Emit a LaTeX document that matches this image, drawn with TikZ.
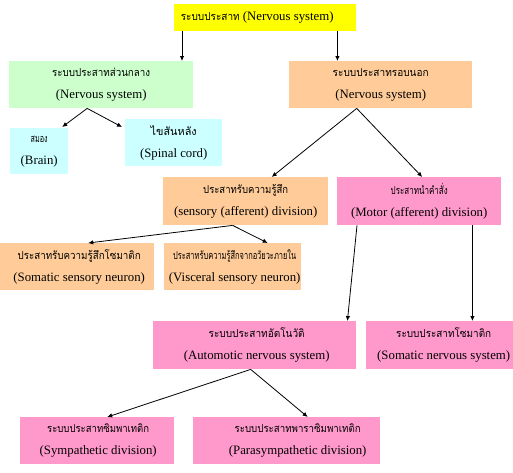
\documentclass[tikz,border=0pt]{standalone}
\usepackage{fontspec}
\usepackage{graphicx}
\setmainfont{Liberation Serif}
\newfontfamily\thai[Script=Thai,Scale=0.85]{Loma}
\newcommand\thaiw[2]{\resizebox{#1pt}{\height}{\thai #2}}
\usetikzlibrary{arrows.meta}
\definecolor{cyel}{HTML}{FFFF00}
\definecolor{cgrn}{HTML}{CCFFCC}
\definecolor{ccyn}{HTML}{CCFFFF}
\definecolor{corg}{HTML}{FFCC99}
\definecolor{cpnk}{HTML}{FF99CC}
\tikzset{
  box/.style={inner sep=0pt, anchor=north west, draw=none},
  txt/.style={inner sep=0pt, align=center, font=\fontsize{12.8}{22}\selectfont},
  arr/.style={line width=0.8pt, -{Latex[length=5pt,width=4.5pt]}}
}
\begin{document}
\begin{tikzpicture}[x=1pt,y=-1pt]
\useasboundingbox (0,0) rectangle (513,472);
% boxes
\node[box,fill=cyel,minimum width=182pt,minimum height=27pt] (top) at (174,4) {};
\node[box,fill=cgrn,minimum width=184pt,minimum height=47pt] (green) at (9,61) {};
\node[box,fill=ccyn,minimum width=58pt,minimum height=46pt] (brain) at (10,128) {};
\node[box,fill=ccyn,minimum width=97pt,minimum height=47pt] (spinal) at (125,119) {};
\node[box,fill=corg,minimum width=183pt,minimum height=47pt] (peri) at (289,61) {};
\node[box,fill=corg,minimum width=165pt,minimum height=48pt] (sens) at (163,177) {};
\node[box,fill=cpnk,minimum width=164pt,minimum height=48pt] (motor) at (337,177) {};
\node[box,fill=corg,minimum width=154pt,minimum height=47pt] (somsens) at (0,243) {};
\node[box,fill=corg,minimum width=137pt,minimum height=47pt] (visc) at (164,243) {};
\node[box,fill=cpnk,minimum width=203pt,minimum height=48pt] (auto) at (153,321) {};
\node[box,fill=cpnk,minimum width=147pt,minimum height=48pt] (somnerv) at (366,321) {};
\node[box,fill=cpnk,minimum width=154pt,minimum height=47pt] (symp) at (20,417) {};
\node[box,fill=cpnk,minimum width=187pt,minimum height=47pt] (para) at (193,417) {};
% texts
\node[txt] (top-t) at ([xshift=-8pt]top.center) {\thaiw{59}{ระบบประสาท} (Nervous system)};
\node[txt] (green-t) at (green.center) {\thaiw{98}{ระบบประสาทส่วนกลาง}\\(Nervous system)};
\node[txt] (brain-t) at (brain.center) {\thaiw{17}{สมอง}\\(Brain)};
\node[txt] (spinal-t) at (spinal.center) {\thaiw{46}{ไขสันหลัง}\\(Spinal cord)};
\node[txt] (peri-t) at (peri.center) {\thaiw{96}{ระบบประสาทรอบนอก}\\(Nervous system)};
\node[txt] (sens-t) at (sens.center) {\thaiw{85}{ประสาทรับความรู้สึก}\\(sensory (afferent) division)};
\node[txt] (motor-t) at (motor.center) {\thaiw{57}{ประสาทนำคำสั่ง}\\(Motor (afferent) division)};
\node[txt] (somsens-t) at ([xshift=2pt]somsens.center) {\thaiw{123}{ประสาทรับความรู้สึกโซมาติก}\\(Somatic sensory neuron)};
\node[txt] (visc-t) at ([xshift=2pt]visc.center) {\thaiw{123}{ประสาทรับความรู้สึกจากอวัยวะภายใน}\\(Visceral sensory neuron)};
\node[txt] (auto-t) at ([xshift=2pt]auto.center) {\thaiw{96}{ระบบประสาทอัตโนวัติ}\\(Automotic nervous system)};
\node[txt] (somnerv-t) at ([xshift=4pt]somnerv.center) {\thaiw{95}{ระบบประสาทโซมาติก}\\(Somatic nervous system)};
\node[txt] (symp-t) at ([xshift=1pt]symp.center) {\thaiw{102}{ระบบประสาทซิมพาเทติก}\\(Sympathetic division)};
\node[txt] (para-t) at ([xshift=11pt]para.center) {\thaiw{126}{ระบบประสาทพาราซิมพาเทติก}\\(Parasympathetic division)};
% connectors
\draw[arr] ([xshift=8pt]top.south west) -- ([xshift=8pt]top.south west |- green.north);
\draw[arr] ([xshift=-19pt]top.south east) -- ([xshift=-19pt]top.south east |- peri.north);
\draw[arr] ([xshift=-14pt]green.south) -- ([xshift=23pt,yshift=1pt]brain.north);
\draw[arr] ([xshift=-14pt]green.south) -- ([xshift=-3pt,yshift=-8pt]spinal.north west);
\draw[arr] ([xshift=-24pt]peri.south) -- ([xshift=26pt]sens.north);
\draw[arr] ([xshift=-24pt]peri.south) -- ([xshift=3pt]motor.north);
\draw[arr] ([xshift=-13pt]sens.south) -- ([xshift=11pt]somsens.north);
\draw[arr] ([xshift=-13pt]sens.south) -- ([xshift=35pt]visc.north);
\draw[arr] ([xshift=20pt]motor.south west) -- ([xshift=-9pt]auto.north east);
\draw[arr] ([xshift=-29pt]motor.south east) -- ([xshift=-29pt]motor.south east |- somnerv.north);
\draw[arr] ([xshift=-4pt]auto.south) -- ([xshift=10pt]symp.north);
\draw[arr] ([xshift=-4pt]auto.south) -- ([xshift=21pt]para.north);
\end{tikzpicture}
\end{document}
